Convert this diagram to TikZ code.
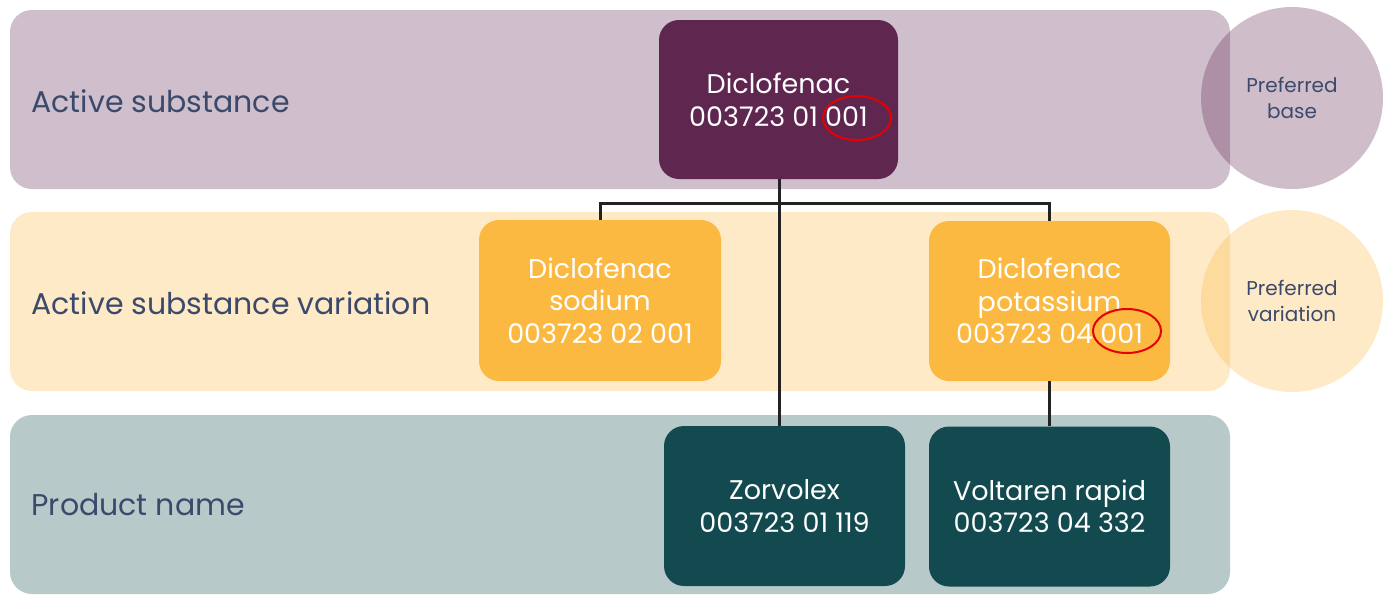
\documentclass[tikz,border=0pt]{standalone}
\usepackage{fontspec}
\setmainfont{Poppins}
\usepackage{tikz}
\usetikzlibrary{shapes, positioning}
\definecolor{basepurple}{RGB}{95, 38, 80}
\definecolor{varyellow}{RGB}{251, 185, 66}
\definecolor{prodteal}{RGB}{18, 74, 79}
\definecolor{labelslate}{RGB}{59, 74, 107}
\definecolor{linegray}{RGB}{34, 34, 34}
\definecolor{markred}{RGB}{230, 0, 0}

\begin{document}
\begin{tikzpicture}[x=1pt, y=-1pt,
  band/.style={rounded corners=22pt, minimum width=1220pt, minimum height=179pt, inner sep=0pt},
  bandlabel/.style={anchor=west, text=labelslate, font=\fontsize{30}{34}\selectfont},
  hint/.style={circle, minimum size=182pt, inner sep=0pt, fill opacity=0.3, text opacity=1,
    text=labelslate, align=center, font=\fontsize{20}{26}\selectfont},
  card/.style={rounded corners=20pt, minimum width=241pt, minimum height=160pt, inner sep=0pt,
    text=white, align=center, font=\fontsize{27}{32.5}\selectfont},
  link/.style={draw=linegray, line width=3pt},
  ring/.style={ellipse, draw=markred, line width=2pt, minimum width=68pt, minimum height=44pt}]
  \useasboundingbox (0,0) rectangle (1383,595);

  % the three levels
  \node[band, fill=basepurple!30] (bandbase) at (620,99.5) {};
  \node[band, fill=varyellow!30] (bandvar) at (620,301.5) {};
  \node[band, fill=prodteal!30] (bandprod) at (620,504.5) {};
  \node[bandlabel] (lblbase) at (28,101) {Active substance};
  \node[bandlabel] (lblvar) at (28,303) {Active substance variation};
  \node[bandlabel] (lblprod) at (28,505) {Product name};

  % preferred markers
  \node[hint, fill=basepurple] (prefbase) at (1292,98) {Preferred\\base};
  \node[hint, fill=varyellow] (prefvar) at (1292,301) {Preferred\\variation};

  % cards
  \node[card, fill=basepurple, minimum width=239pt, minimum height=159pt] (base) at (778.5,99.5) {Diclofenac\\003723 01 001};
  \node[card, fill=varyellow, minimum width=242pt, minimum height=161pt] (sodium) at (600,300.5) {Diclofenac\\sodium\\003723 02 001};
  \node[card, fill=varyellow] (potassium) at (1049.5,301) {Diclofenac\\potassium\\003723 04 001};
  \node[card, fill=prodteal] (zorvolex) at (784.5,506) {Zorvolex\\003723 01 119};
  \node[card, fill=prodteal] (voltaren) at (1049.5,506.5) {Voltaren rapid\\003723 04 332};

  % connectors
  \coordinate (split) at (779,203);
  \draw[link] (base.south -| split) -- (split |- zorvolex.north);
  \draw[link] (sodium.north) |- (split) -| (potassium.north);
  \draw[link] (potassium.south) -- (voltaren.north);

  % highlighted suffixes
  \node[ring] (ringbase) at (857,118) {};
  \node[ring] (ringpot) at (1127,331) {};
\end{tikzpicture}
\end{document}
